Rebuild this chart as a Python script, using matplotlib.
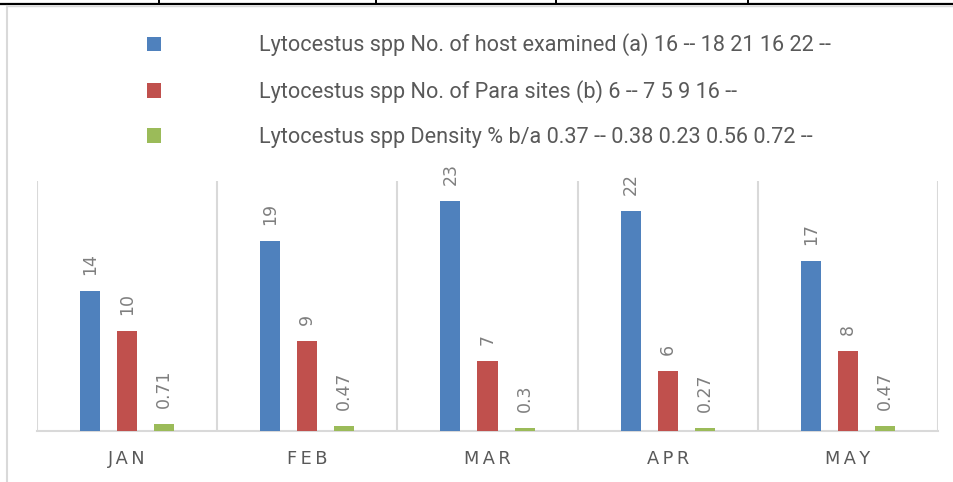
import matplotlib
matplotlib.use("Agg")
import matplotlib.pyplot as plt
from matplotlib.lines import Line2D
import numpy as np

# chart data
months = ["JAN", "FEB", "MAR", "APR", "MAY"]
host_examined = [14, 19, 23, 22, 17]
para_sites = [10, 9, 7, 6, 8]
density = [0.71, 0.47, 0.3, 0.27, 0.47]
series_names = [
    "Lytocestus spp No. of host examined (a) 16 -- 18 21 16 22 --",
    "Lytocestus spp No. of Para sites (b) 6 -- 7 5 9 16 --",
    "Lytocestus spp Density % b/a 0.37 -- 0.38 0.23 0.56 0.72 --",
]
colors = ["#4f81bd", "#c0504d", "#9bbb59"]

W, H = 954, 482
fig = plt.figure(figsize=(W / 100, H / 100), dpi=100)
ax = fig.add_axes([37 / W, 1 - 430.7 / H, 901 / W, 249.7 / H])

x = np.arange(len(months))
offsets = [-0.2056, 0.0, 0.2056]
bw = 0.111
containers = []
for vals, off, col, name in zip([host_examined, para_sites, density], offsets, colors, series_names):
    bars = ax.bar(x + off, vals, bw, color=col, label=name, zorder=3)
    ax.bar_label(bars, labels=[f"{v:g}" for v in vals], rotation=90, padding=11.5,
                 fontsize=12.5, color="#7f7f7f")
    containers.append(bars)

ax.set_xlim(-0.5, len(months) - 0.5)
ax.set_ylim(0, 25)
ax.set_yticks([])
ax.set_xticks(x)
ax.set_xticklabels(["\u2009".join(m) for m in months], fontsize=12.8, color="#595959")
ax.tick_params(axis="x", length=0, pad=14)
for sep in np.arange(len(months) + 1) - 0.5:
    ax.axvline(sep, color="#d9d9d9", lw=1.5, zorder=1)
for s in ["top", "right", "left"]:
    ax.spines[s].set_visible(False)
ax.spines["bottom"].set_color("#d9d9d9")
ax.spines["bottom"].set_linewidth(1.5)

leg = fig.legend(handles=containers, labels=series_names, loc="upper left",
                 bbox_to_anchor=(147 / W, 1 - 33.5 / H), frameon=False,
                 prop={"family": ["Roboto"], "size": 15.6},
                 handlelength=0.645, handleheight=0.645, handletextpad=4.52,
                 labelspacing=1.1, borderaxespad=0, borderpad=0)
for t in leg.get_texts():
    t.set_color("#595959")

# table border above the chart and chart frame
fig.add_artist(Line2D([0, 1], [1 - 3.5 / H, 1 - 3.5 / H], color="black", lw=1.6,
                      transform=fig.transFigure))
for xv in [159, 376, 556, 748]:
    fig.add_artist(Line2D([xv / W, xv / W], [1, 1 - 3.5 / H], color="black", lw=1.4,
                          transform=fig.transFigure))
fig.add_artist(Line2D([7 / W, 1], [1 - 5.5 / H, 1 - 5.5 / H], color="#d9d9d9", lw=1.0,
                      transform=fig.transFigure))
fig.add_artist(Line2D([7 / W, 7 / W], [0, 1 - 5.5 / H], color="#d9d9d9", lw=1.5,
                      transform=fig.transFigure))

fig.savefig("out.png", dpi=100)
